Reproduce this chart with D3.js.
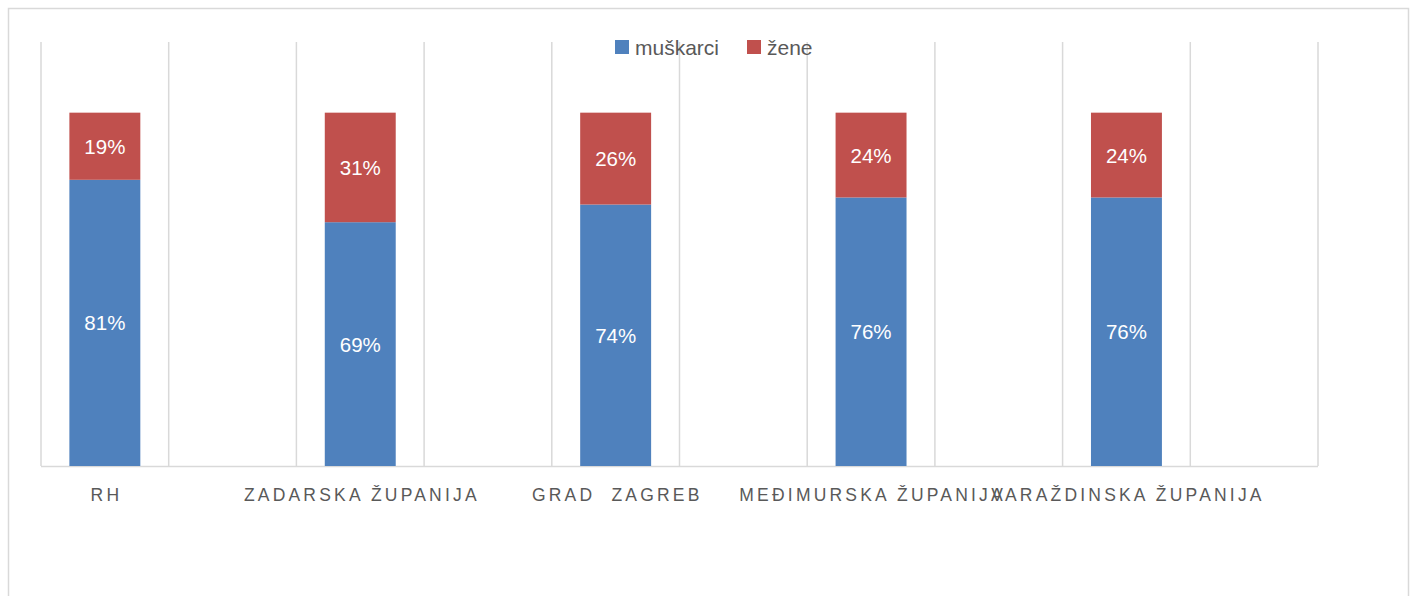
<!DOCTYPE html>
<html>
<head>
<meta charset="utf-8">
<script src="https://cdn.jsdelivr.net/npm/d3@7"></script>
<style>
  html, body { margin: 0; padding: 0; background: #fff; }
  svg { display: block; }
  text { font-family: "Liberation Sans", Arial, sans-serif; }
</style>
</head>
<body>
<svg id="chart" width="1410" height="596"></svg>
<script>
const categories = ["RH", "ZADARSKA ŽUPANIJA", "GRAD  ZAGREB", "MEĐIMURSKA ŽUPANIJA", "VARAŽDINSKA ŽUPANIJA"];
const muskarci = [0.81, 0.69, 0.74, 0.76, 0.76];
const zene = [0.19, 0.31, 0.26, 0.24, 0.24];
const seriesNames = ["muškarci", "žene"];
const colors = ["#4f81bd", "#c0504d"];

const svg = d3.select("#chart");

// outer chart frame
svg.append("rect")
  .attr("x", 8.5).attr("y", 8.5)
  .attr("width", 1400).attr("height", 620)
  .attr("fill", "#fff").attr("stroke", "#d9d9d9").attr("stroke-width", 1.5);

const plot = { left: 41, right: 1318, top: 42, bottom: 466 };

const x = d3.scaleBand().domain(categories).range([plot.left, plot.right]).paddingInner(0).paddingOuter(0);
const sub = d3.scaleBand().domain(["bar", "gap"]).range([0, x.bandwidth()]);
const barBand = d3.scaleBand().domain(["b"]).range([0, sub.bandwidth()]).paddingInner(0).paddingOuter(0.4);
const y = d3.scaleLinear().domain([0, 1.2]).range([plot.bottom, plot.top]);

// vertical gridlines
const gridX = [];
categories.forEach(c => { gridX.push(x(c)); gridX.push(x(c) + sub("gap")); });
gridX.push(plot.right);
svg.append("g").selectAll("line").data(gridX).join("line")
  .attr("x1", d => d).attr("x2", d => d)
  .attr("y1", plot.top).attr("y2", plot.bottom)
  .attr("stroke", "#d9d9d9").attr("stroke-width", 1.5);

// axis line
svg.append("line")
  .attr("x1", plot.left).attr("x2", plot.right)
  .attr("y1", plot.bottom + 0.5).attr("y2", plot.bottom + 0.5)
  .attr("stroke", "#d9d9d9").attr("stroke-width", 1.5);

// stacked data
const rows = categories.map((c, i) => ({ cat: c, "muškarci": muskarci[i], "žene": zene[i] }));
const stack = d3.stack().keys(seriesNames)(rows);

const barX = c => x(c) + sub("bar") + barBand("b");
const bw = barBand.bandwidth();

const groups = svg.append("g").selectAll("g").data(stack).join("g")
  .attr("fill", (d, i) => colors[i]);
groups.selectAll("rect").data(d => d).join("rect")
  .attr("x", d => barX(d.data.cat))
  .attr("width", bw)
  .attr("y", d => y(d[1]))
  .attr("height", d => y(d[0]) - y(d[1]));

// data labels
const fmt = d3.format(".0%");
svg.append("g").selectAll("g").data(stack).join("g")
  .selectAll("text").data(d => d).join("text")
  .attr("x", d => barX(d.data.cat) + bw / 2)
  .attr("y", d => (y(d[0]) + y(d[1])) / 2)
  .attr("text-anchor", "middle")
  .attr("dominant-baseline", "central")
  .attr("fill", "#fff")
  .attr("font-size", 20.5)
  .text(d => fmt(d[1] - d[0]));

// category labels
svg.append("g").selectAll("text").data(categories).join("text")
  .attr("x", c => barX(c) + bw / 2 + 1.6)
  .attr("y", 500.5)
  .attr("text-anchor", "middle")
  .attr("fill", "#595959")
  .attr("font-size", 17.5)
  .attr("letter-spacing", 3.2)
  .style("white-space", "pre")
  .text(c => c);

// legend
const legend = svg.append("g");
const legendItems = [
  { name: seriesNames[0], color: colors[0], x: 615 },
  { name: seriesNames[1], color: colors[1], x: 747 }
];
const li = legend.selectAll("g").data(legendItems).join("g")
  .attr("transform", d => `translate(${d.x},40)`);
li.append("rect").attr("width", 14).attr("height", 14).attr("fill", d => d.color);
li.append("text").attr("x", 20).attr("y", 7).attr("dominant-baseline", "central")
  .attr("fill", "#595959").attr("font-size", 21).text(d => d.name);
</script>
</body>
</html>
